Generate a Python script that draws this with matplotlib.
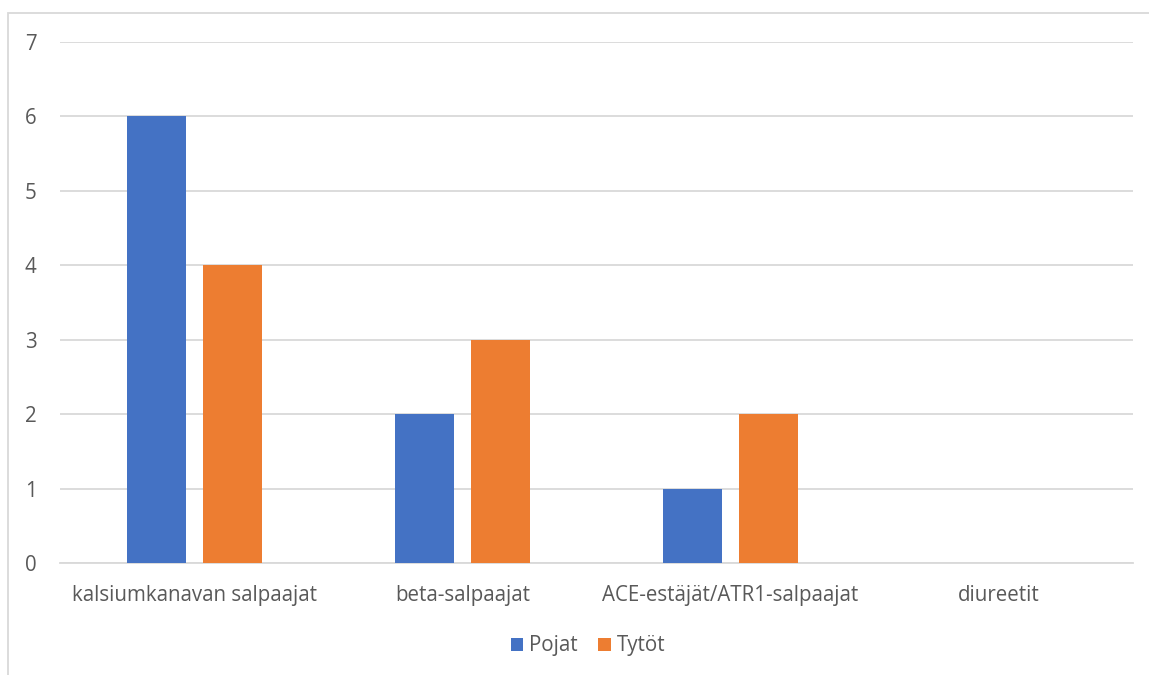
import matplotlib
matplotlib.use("Agg")
import matplotlib.pyplot as plt
import numpy as np
from matplotlib.patches import Rectangle

categories = ["kalsiumkanavan salpaajat", "beta-salpaajat", "ACE-estäjät/ATR1-salpaajat", "diureetit"]
pojat = [6, 2, 1, 0]
tytot = [4, 3, 2, 0]
series_names = ["Pojat", "Tytöt"]
yticks = [0, 1, 2, 3, 4, 5, 6, 7]

plt.rcParams['font.family'] = ['Open Sans', 'DejaVu Sans']
txt = '#595959'
W, H = 1149, 675
fig = plt.figure(figsize=(W/100, H/100), dpi=100)
ax = fig.add_axes([60/W, 1-563/H, (1133-60)/W, (563-42)/H])

x = np.arange(len(categories))
bw = 59/268
off = 38/268
ax.bar(x - off, pojat, bw, color='#4472C4', label=series_names[0], zorder=3)
ax.bar(x + off, tytot, bw, color='#ED7D31', label=series_names[1], zorder=3)

ax.set_xlim(-0.5, 3.5)
ax.set_ylim(0, 7)
ax.set_yticks(yticks)
ax.set_xticks(x)
ax.set_xticklabels(categories)
ax.grid(axis='y', color='#d9d9d9', linewidth=1.3, zorder=0)
for s in ['top', 'right', 'left']:
    ax.spines[s].set_visible(False)
ax.spines['bottom'].set_color('#d9d9d9')
ax.spines['bottom'].set_linewidth(1.3)
ax.tick_params(axis='both', length=0, colors=txt, labelsize=14.8)
ax.tick_params(axis='x', pad=16)
ax.tick_params(axis='y', pad=17)

leg = fig.legend(loc='center', bbox_to_anchor=(588/W, 1-646/H), ncol=2, frameon=False,
                 fontsize=14.8, handlelength=0.6, handleheight=0.6, handletextpad=0.3,
                 columnspacing=1.0, labelcolor=txt)

fig.patches.append(Rectangle((8/W, -0.1), 1.2, 1-13/H+0.1, transform=fig.transFigure,
                             fill=False, edgecolor='#d9d9d9', linewidth=1.3))
fig.savefig('out.png', dpi=100)
